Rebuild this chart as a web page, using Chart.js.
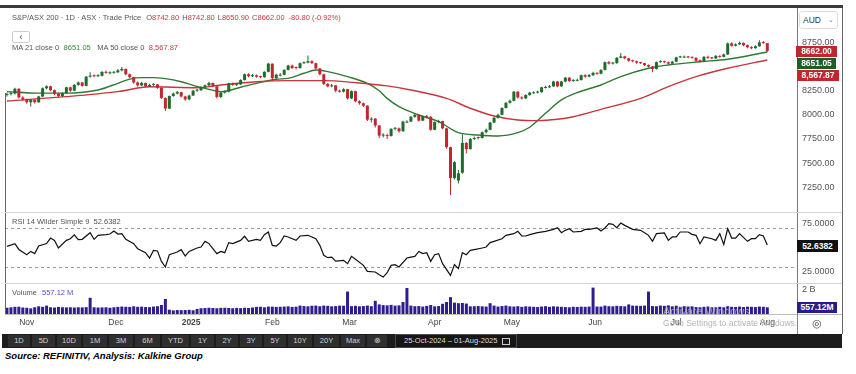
<!DOCTYPE html>
<html>
<head>
<meta charset="utf-8">
<script src="https://cdn.jsdelivr.net/npm/chart.js@4.4.1/dist/chart.umd.min.js"></script>
<style>
body{margin:0;width:856px;height:374px;background:#fff;position:relative;overflow:hidden;font-family:"Liberation Sans",Arial,sans-serif;color:#555}
canvas{position:absolute;left:0}
.a{position:absolute;white-space:nowrap}
.s{font-size:7.5px;line-height:10px;color:#555}
.r{color:#d2353f}
.g{color:#3a8a3a}
.p{color:#5b50c8}
.box{color:#fff;font-weight:bold;font-size:8.5px;text-align:center}
.btn{position:absolute;top:1px;height:12px;line-height:12px;background:#2f2f2f;color:#cfcfcf;font-size:7.5px;text-align:center}
</style>
</head>
<body>
<canvas id="price" width="842" height="204" style="top:8px"></canvas>
<canvas id="rsi" width="842" height="71" style="top:212px"></canvas>
<canvas id="vol" width="842" height="50" style="top:283px"></canvas>

<div class="a" style="left:663px;top:305px;font-size:11px;line-height:13px;color:rgba(190,190,190,0.75)">Activate Windows</div>

<div class="a" style="left:0;top:5px;width:843px;height:3px;background:#3a3a3a"></div>
<div class="a" style="left:842px;top:8px;width:1px;height:326px;background:#666"></div>
<div class="a" style="left:5px;top:93px;width:1px;height:221px;background:#666"></div>
<div class="a" style="left:5px;top:212px;width:837px;height:1px;background:#d4d4d4"></div>
<div class="a" style="left:5px;top:283px;width:837px;height:1px;background:#d4d4d4"></div>
<div class="a" style="left:5px;top:314px;width:837px;height:1px;background:#bdbdbd"></div>
<div class="a" style="left:797px;top:314px;width:1px;height:20px;background:#888"></div>

<div class="a s" style="left:12px;top:13px">S&amp;P/ASX 200 · 1D · ASX · Trade Price<span style="margin-left:5px">O<span class="r">8742.80</span></span><span style="margin-left:3px">H<span class="r">8742.80</span></span><span style="margin-left:3px">L<span class="r">8650.90</span></span><span style="margin-left:3px">C<span class="r">8662.00</span></span><span class="r" style="margin-left:4px">-80.80 (-0.92%)</span></div>
<div class="a" style="left:12px;top:31px;width:16px;height:10px;border:1px solid #ccc;border-radius:2px;font-size:9px;line-height:10px;text-align:center;color:#333">‹</div>
<div class="a s" style="left:12px;top:43px">MA 21 close 0<span class="g" style="margin-left:4.5px">8651.05</span><span style="margin-left:6.5px">MA 50 close 0</span><span class="r" style="margin-left:4.5px">8,567.87</span></div>

<div class="a" style="left:799px;top:11px;width:37px;height:16px;border:1px solid #ddd;border-radius:3px;background:#fff;font-size:8.5px;line-height:16px;color:#333"><span style="margin-left:3px">AUD</span><span style="position:absolute;right:3px;font-size:7px;color:#777">⌄</span></div>
<div class="a box" style="left:796px;top:46px;width:41px;height:11px;line-height:11px;background:#c0272d">8662.00</div>
<div class="a box" style="left:797px;top:58px;width:39px;height:11px;line-height:11px;background:#1e5e29">8651.05</div>
<div class="a box" style="left:797px;top:70px;width:42px;height:11px;line-height:11px;background:#c0272d">8,567.87</div>

<div class="a s" style="left:12px;top:217px">RSI 14 Wilder Simple 9<span style="margin-left:4px">52.6382</span></div>
<div class="a box" style="left:797px;top:240px;width:41px;height:12px;line-height:12px;background:#111">52.6382</div>

<div class="a s" style="left:12px;top:288px">Volume<span class="p" style="margin-left:5px">557.12 M</span></div>
<div class="a box" style="left:797px;top:302px;width:40px;height:11px;line-height:11px;background:#2a1b8a">557.12M</div>

<div class="a" style="left:663px;top:318px;font-size:8.5px;line-height:10px;color:#b4b4b4">Go to Settings to activate Windows.</div>
<div class="a" style="left:812px;top:316px;font-size:11px;line-height:14px;color:#444">◎</div>

<div class="a" style="left:2px;top:334px;width:840px;height:14px;background:#1c1c1c">
  <div class="btn" style="left:6px;width:22px">1D</div>
  <div class="btn" style="left:30px;width:23px">5D</div>
  <div class="btn" style="left:55px;width:24px">10D</div>
  <div class="btn" style="left:81px;width:24px">1M</div>
  <div class="btn" style="left:107px;width:24px">3M</div>
  <div class="btn" style="left:133px;width:25px">6M</div>
  <div class="btn" style="left:160px;width:27px">YTD</div>
  <div class="btn" style="left:189px;width:23px">1Y</div>
  <div class="btn" style="left:214px;width:22px">2Y</div>
  <div class="btn" style="left:238px;width:22px">3Y</div>
  <div class="btn" style="left:262px;width:22px">5Y</div>
  <div class="btn" style="left:286px;width:24px">10Y</div>
  <div class="btn" style="left:312px;width:25px">20Y</div>
  <div class="btn" style="left:339px;width:24px">Max</div>
  <div class="btn" style="left:365px;width:20px">⊗</div>
  <div class="a" style="left:393px;top:0;width:120px;height:12px;border:1px solid #4a4a4a;background:#161616;color:#ddd;font-size:7.5px;line-height:12px"><span style="margin-left:8px">25-Oct-2024 – 01-Aug-2025</span><span style="position:absolute;right:6px;top:3px;width:6px;height:5px;border:1px solid #ccc"></span></div>
</div>

<div class="a" style="left:5px;top:350px;font-size:9.5px;line-height:12px;font-weight:bold;font-style:italic;color:#000">Source: REFINITIV, Analysis: Kalkine Group</div>

<script>
// daily candles, 25-Oct-2024 .. 01-Aug-2025 (index 0..192)
const opens = [
  8205,8215,8220,8270,8180,8160,8130,8155,8130,8190,
  8275,8295,8255,8220,8195,8225,8285,8250,8310,8335,
  8300,8395,8405,8400,8405,8445,8430,8435,8440,8460,
  8475,8420,8390,8335,8305,8330,8295,8310,8315,8280,
  8175,8065,8195,8220,8235,8190,8160,8200,8250,8255,
  8285,8305,8330,8295,8185,8230,8240,8325,8310,8315,
  8360,8420,8400,8410,8395,8390,8445,8530,8380,8405,
  8415,8465,8510,8495,8485,8535,8540,8555,8535,8480,
  8420,8320,8295,8305,8250,8240,8265,8170,8245,8140,
  8120,8095,7950,7960,7890,7785,7790,7780,7855,7860,
  7830,7920,7930,7980,8000,7940,7985,7980,7845,7925,
  7935,7860,7665,7345,7320,7400,7710,7645,7750,7770,
  7760,7820,7845,7920,7970,8000,8070,8125,8145,8240,
  8180,8170,8205,8222,8230,8235,8278,8285,8295,8345,
  8295,8345,8385,8350,8352,8360,8410,8395,8410,8435,
  8425,8465,8545,8530,8535,8590,8605,8585,8560,8555,
  8540,8535,8515,8500,8475,8545,8550,8545,8530,8550,
  8595,8592,8600,8595,8590,8560,8555,8600,8590,8585,
  8610,8600,8625,8740,8715,8730,8745,8720,8700,8690,
  8710,8750,8742.8
];
const highs = [
  8232,8238,8280,8275,8192,8168,8165,8162,8198,8282,
  8305,8300,8262,8228,8235,8292,8290,8318,8345,8340,
  8402,8440,8418,8420,8452,8458,8450,8455,8475,8495,
  8480,8428,8395,8345,8342,8336,8322,8328,8320,8285,
  8180,8200,8230,8248,8240,8198,8208,8258,8268,8295,
  8315,8342,8335,8300,8238,8252,8332,8335,8326,8368,
  8428,8430,8422,8418,8405,8452,8540,8532,8425,8432,
  8472,8518,8520,8500,8542,8552,8615,8565,8540,8485,
  8425,8330,8318,8310,8262,8275,8270,8252,8250,8150,
  8128,8100,7975,7968,7895,7810,7805,7862,7875,7868,
  7938,7945,7988,8012,8005,7992,7998,7985,7932,7948,
  7940,7865,7670,7520,7430,7800,7715,7760,7775,7775,
  7828,7858,7928,7978,8010,8078,8132,8158,8248,8245,
  8192,8212,8240,8245,8250,8292,8300,8308,8352,8350,
  8352,8392,8390,8372,8375,8418,8420,8422,8445,8442,
  8472,8552,8558,8548,8598,8640,8612,8592,8570,8562,
  8550,8540,8522,8505,8552,8565,8560,8552,8560,8602,
  8612,8615,8610,8605,8595,8572,8608,8612,8598,8620,
  8618,8635,8748,8752,8742,8758,8750,8728,8710,8720,
  8772,8765,8742.8
];
const lows = [
  8190,8200,8210,8170,8145,8115,8085,8118,8125,8185,
  8265,8245,8205,8180,8185,8218,8238,8245,8300,8290,
  8295,8385,8388,8392,8398,8425,8420,8425,8432,8452,
  8410,8378,8322,8290,8298,8285,8288,8300,8270,8165,
  8040,8060,8188,8210,8180,8145,8150,8195,8240,8248,
  8275,8298,8285,8170,8175,8220,8235,8300,8298,8308,
  8355,8390,8392,8385,8378,8385,8440,8350,8370,8400,
  8410,8458,8475,8470,8478,8525,8535,8525,8470,8410,
  8310,8285,8285,8235,8228,8232,8160,8165,8130,8105,
  8080,7935,7920,7870,7760,7765,7750,7775,7840,7815,
  7825,7915,7925,7970,7930,7935,7965,7835,7840,7912,
  7850,7650,7170,7330,7290,7390,7600,7640,7740,7745,
  7755,7810,7840,7915,7962,7995,8065,8118,8140,8170,
  8158,8165,8198,8218,8222,8228,8272,8278,8290,8285,
  8290,8338,8340,8342,8348,8355,8385,8388,8402,8415,
  8420,8460,8520,8522,8530,8585,8575,8550,8545,8530,
  8525,8505,8490,8440,8470,8538,8535,8520,8525,8545,
  8588,8590,8585,8580,8550,8545,8550,8580,8575,8578,
  8590,8595,8620,8705,8708,8722,8710,8690,8680,8685,
  8705,8735,8650.9
];
const closes = [
  8215,8220,8270,8180,8160,8130,8155,8130,8190,8275,
  8295,8255,8220,8195,8225,8285,8250,8310,8335,8300,
  8395,8405,8400,8405,8445,8435,8435,8440,8460,8475,
  8420,8390,8335,8305,8330,8295,8310,8315,8280,8175,
  8065,8195,8220,8235,8190,8160,8200,8250,8255,8285,
  8305,8330,8295,8185,8230,8240,8325,8310,8315,8360,
  8420,8400,8410,8395,8390,8445,8530,8380,8415,8415,
  8465,8510,8485,8485,8535,8540,8555,8535,8480,8420,
  8320,8295,8305,8250,8240,8265,8170,8245,8140,8120,
  8095,7950,7960,7890,7785,7790,7780,7855,7860,7830,
  7930,7930,7980,8000,7940,7985,7980,7845,7925,7935,
  7860,7665,7345,7510,7395,7710,7645,7750,7760,7760,
  7820,7845,7920,7970,8000,8070,8125,8145,8240,8180,
  8170,8205,8230,8230,8235,8285,8285,8295,8345,8295,
  8345,8385,8350,8360,8360,8410,8395,8410,8435,8425,
  8465,8545,8530,8535,8590,8605,8585,8560,8555,8540,
  8535,8515,8500,8475,8545,8550,8545,8530,8550,8595,
  8600,8600,8595,8590,8560,8555,8600,8590,8585,8610,
  8600,8625,8740,8715,8730,8745,8720,8700,8690,8710,
  8750,8743,8662
];
// volume, millions
const volumes = [
  520,560,600,610,540,520,470,560,640,600,
  700,560,540,590,560,550,560,540,560,550,
  570,1350,560,540,550,560,520,560,590,620,
  600,590,640,600,610,580,570,620,650,750,
  1250,360,300,330,320,330,350,310,420,480,
  500,520,500,480,510,520,500,480,510,490,
  520,500,540,590,600,560,620,610,590,600,
  620,640,590,610,700,660,640,690,700,650,
  700,680,640,660,700,690,1870,650,680,640,
  660,700,650,1100,800,740,720,760,700,720,
  1000,2170,700,650,660,620,680,750,640,660,
  850,1000,1400,950,900,920,870,640,650,660,
  640,620,900,700,620,660,700,640,620,650,
  600,640,620,600,580,620,650,600,640,620,
  600,580,560,600,590,610,600,620,2200,620,
  620,700,650,640,680,660,640,800,700,690,
  680,700,1870,660,650,700,680,720,640,690,
  600,650,620,640,580,560,600,620,560,580,
  600,560,650,600,590,620,580,610,600,580,
  620,600,557.12
];
// moving averages at these day indexes
const ma21Days = [0,8,15,23,28,31,34,37,40,44,47,51,54,59,63,68,71,75,78,81,86,91,94,96,99,104,109,114,119,124,129,132,136,140,144,150,155,162,167,175,182,192];
const ma21Values = [8240,8225,8225,8257,8326,8370,8385,8385,8375,8343,8305,8264,8240,8285,8326,8368,8378,8430,8464,8447,8395,8326,8250,8170,8084,7998,7930,7815,7791,7781,7815,7871,8016,8154,8230,8309,8395,8482,8516,8550,8575,8651.05];
const ma50Days = [0,15,28,36,48,54,63,71,80,88,96,102,111,117,123,129,134,139,143,150,160,167,174,182,192];
const ma50Values = [8143,8188,8240,8290,8281,8309,8343,8354,8354,8333,8300,8257,8171,8068,7988,7947,7940,7954,7980,8057,8171,8291,8395,8482,8567.87];
// RSI 14
const rsiDays = [
  0,2,3,5,6,7,8,10,11,12,
  13,15,16,17,18,19,21,22,23,25,
  26,27,28,29,30,32,33,35,36,37,
  38,39,40,41,43,44,45,46,48,49,
  50,51,53,54,55,56,57,59,60,61,
  63,64,65,66,67,68,69,70,71,73,
  74,76,78,79,80,81,82,83,85,86,
  87,88,90,91,93,94,95,96,97,98,
  99,101,102,103,104,105,106,107,108,109,
  110,112,113,114,115,116,117,118,120,121,
  122,123,125,126,128,129,130,131,132,134,
  136,138,139,140,141,142,143,145,146,147,
  149,150,151,152,153,154,155,156,158,160,
  161,162,163,164,166,167,168,169,170,172,
  173,174,175,176,178,179,180,181,182,183,
  184,185,187,188,189,190,191,192
];
const rsiValues = [
  51.2,54,48,42.6,46,43.7,51.5,54,59.7,57.3,
  49.5,57.3,59,63,58,58.4,65.2,58.4,62.5,63.2,
  63.8,67,63.8,64.2,58.4,54,48.8,44.7,39.2,47,
  46.4,35.8,30,42.6,45.4,47.8,41.3,46,49.5,50.5,
  56.3,54,43.7,46,44.7,55,54,57.3,61.5,56.3,
  58.4,57.3,63.2,65.9,52.2,51.5,55,61.8,60.8,57.3,
  61.8,62.5,59,52.2,42,39.6,40.2,36.1,36.8,33.4,
  40.9,37.9,31.7,25.5,24.9,22.1,19.7,24.2,31.7,32.4,
  30,39.2,40.2,40.9,46,43.7,44.7,35.8,42.6,43.7,
  33.4,21.4,32.4,28.3,44.7,42.6,47,47.8,49.5,50.5,
  55,56.3,59,62.5,64.2,66.6,61.8,61.8,63.2,65.2,
  66.6,68.6,70.3,65.2,67.6,69.3,65.9,66.6,68.6,68.6,
  70,67,70,74.4,73.8,70.3,75.1,72.7,68.6,67.6,
  65.2,62.5,56.3,64.2,64.9,57.3,60.8,60.8,65.9,65.9,
  63.5,62.5,53.9,60.8,59,57.3,64.2,53.2,69.3,59.7,
  59.7,64.2,56.3,59,59,63.2,61.8,52.6382
];
const rsiGuides = [30, 70];

const monthTicks = [5, 27.5, 46.5, 67, 86.5, 108, 127.5, 148.5, 169, 192];
const monthLabels = ['Nov', 'Dec', '2025', 'Feb', 'Mar', 'Apr', 'May', 'Jun', 'Jul', 'Aug'];
const priceTicks = [7250, 7500, 7750, 8000, 8250, 8500, 8750];
const rsiTicks = [25, 75];
const volTicks = [2000];

Chart.defaults.font.family = '"Liberation Sans", Arial, sans-serif';
Chart.defaults.animation = false;
Chart.defaults.plugins.legend.display = false;
Chart.defaults.plugins.tooltip.enabled = false;

const GREEN = '#1f6b2c';
const RED = '#c2262e';
const days = closes.map((c, i) => i);
const candleColor = days.map(i => closes[i] >= opens[i] ? GREEN : RED);

// axes must not ask the layout for label overhang, or the panels lose height
function noPadding(s) {
    s.paddingTop = 0;
    s.paddingBottom = 0;
    s.paddingLeft = 0;
    s.paddingRight = 0;
}

function xAxis(show) {
    return {
        type: 'linear', min: -0.5, max: 199.5, display: show, offset: false,
        grid: {display: false, drawTicks: false, offset: false},
        border: {display: false},
        afterFit: s => { s.height = show ? 19 : 0; noPadding(s); },
        afterBuildTicks: s => { s.ticks = monthTicks.map(v => ({value: v})); },
        ticks: {
            autoSkip: false, maxRotation: 0, padding: 4, color: '#444',
            font: c => ({size: 8.5, weight: c.tick && c.tick.value === monthTicks[2] ? 'bold' : 'normal'}),
            callback: v => monthLabels[monthTicks.indexOf(v)]
        }
    };
}

function yAxis(min, max, ticks, fmt) {
    return {
        position: 'right', min: min, max: max,
        grid: {display: false, drawTicks: false},
        border: {display: true, color: '#777'},
        afterFit: s => { s.width = 45; noPadding(s); },
        afterBuildTicks: s => { s.ticks = ticks.map(v => ({value: v})); },
        ticks: {padding: 5, color: '#555', font: {size: 9}, callback: fmt}
    };
}

const layout = {padding: {left: 5, top: 0, bottom: 0, right: 0}, autoPadding: false};

new Chart(document.getElementById('price'), {
    type: 'bar',
    data: {
        datasets: [
            {
                type: 'line', order: 3,
                data: ma50Days.map((d, k) => ({x: d, y: ma50Values[k]})),
                borderColor: '#c8353d', borderWidth: 1.4, pointRadius: 0,
                cubicInterpolationMode: 'monotone'
            },
            {
                type: 'line', order: 3,
                data: ma21Days.map((d, k) => ({x: d, y: ma21Values[k]})),
                borderColor: '#2f7a34', borderWidth: 1.4, pointRadius: 0,
                cubicInterpolationMode: 'monotone'
            },
            {
                order: 2, grouped: false, barThickness: 1, inflateAmount: 0,
                data: days.map(i => ({x: i, y: [lows[i], highs[i]]})),
                backgroundColor: candleColor
            },
            {
                order: 1, grouped: false, barThickness: 3, minBarLength: 1, inflateAmount: 0,
                data: days.map(i => ({x: i, y: [opens[i], closes[i]]})),
                backgroundColor: candleColor
            }
        ]
    },
    options: {
        responsive: false,
        layout: layout,
        scales: {
            x: xAxis(false),
            y: yAxis(6994, 9106, priceTicks, v => v.toFixed(2))
        }
    }
});

new Chart(document.getElementById('rsi'), {
    type: 'line',
    data: {
        datasets: [{
            data: rsiDays.map((d, k) => ({x: d, y: rsiValues[k]})),
            borderColor: '#111', borderWidth: 1.2, pointRadius: 0, tension: 0
        }]
    },
    options: {
        responsive: false,
        layout: layout,
        scales: {
            x: xAxis(false),
            y: yAxis(13.6, 86.4, rsiTicks, v => v.toFixed(4))
        }
    },
    plugins: [{
        id: 'rsiGuides',
        beforeDatasetsDraw(chart) {
            const ctx = chart.ctx;
            const area = chart.chartArea;
            const y = chart.scales.y;
            ctx.save();
            ctx.strokeStyle = '#9a9a9a';
            ctx.lineWidth = 1;
            ctx.setLineDash([3, 3]);
            rsiGuides.forEach(v => {
                const py = Math.round(y.getPixelForValue(v)) + 0.5;
                ctx.beginPath();
                ctx.moveTo(area.left, py);
                ctx.lineTo(area.right, py);
                ctx.stroke();
            });
            ctx.restore();
        }
    }]
});

new Chart(document.getElementById('vol'), {
    type: 'bar',
    data: {
        datasets: [{
            data: days.map(i => ({x: i, y: volumes[i]})),
            backgroundColor: '#2d1d91', barThickness: 3, inflateAmount: 0
        }]
    },
    options: {
        responsive: false,
        layout: layout,
        scales: {
            x: xAxis(true),
            y: yAxis(0, 2583, volTicks, v => (v / 1000) + ' B')
        }
    }
});
</script>
</body>
</html>
